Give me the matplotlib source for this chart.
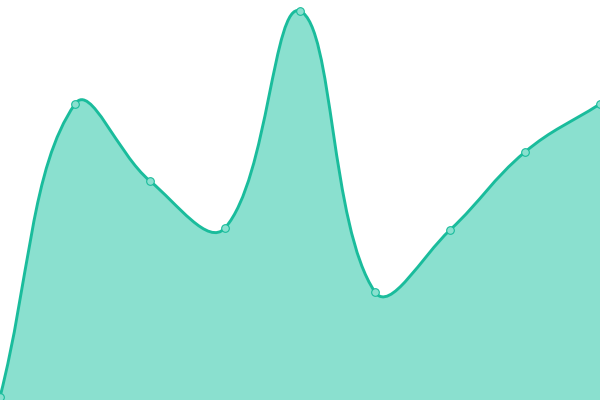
import matplotlib
matplotlib.use("Agg")
import matplotlib.pyplot as plt
import numpy as np
from matplotlib.path import Path
from matplotlib.patches import PathPatch

labels = ["A", "B", "C", "D", "E", "F", "G", "H", "I"]
values = [3, 296, 219, 172, 389, 108, 170, 248, 296]

LINE = "#1abc9c"
FILL = "#8ae0cf"
TENSION = 0.4

fig = plt.figure(figsize=(6, 4), dpi=100)
ax = fig.add_axes([0, 0, 1, 1])
ax.set_xlim(0, len(values) - 1)
ax.set_ylim(0, 400)
ax.axis("off")

xs = np.arange(len(values), dtype=float)
pts = ax.transData.transform(np.column_stack([xs, values]))
W, H = fig.bbox.width, fig.bbox.height

def spline(p0, p1, p2, t):
    d01 = np.hypot(*(p1 - p0))
    d12 = np.hypot(*(p2 - p1))
    tot = d01 + d12
    s01 = d01 / tot if tot else 0
    s12 = d12 / tot if tot else 0
    fa, fb = t * s01, t * s12
    prev = p1 - fa * (p2 - p0)
    nxt = p1 + fb * (p2 - p0)
    return prev, nxt

n = len(pts)
ctrl_prev, ctrl_next = [], []
for i in range(n):
    p0 = pts[i - 1] if i > 0 else pts[i]
    p2 = pts[i + 1] if i < n - 1 else pts[i]
    a, b = spline(p0, pts[i], p2, TENSION)
    a = np.array([np.clip(a[0], 0, W), np.clip(a[1], 0, H)])
    b = np.array([np.clip(b[0], 0, W), np.clip(b[1], 0, H)])
    ctrl_prev.append(a)
    ctrl_next.append(b)

verts = [pts[0]]
codes = [Path.MOVETO]
for i in range(1, n):
    verts += [ctrl_next[i - 1], ctrl_prev[i], pts[i]]
    codes += [Path.CURVE4] * 3

inv = ax.transData.inverted()
dverts = inv.transform(np.array(verts))

fverts = list(dverts) + [[xs[-1], 0], [xs[0], 0], dverts[0]]
fcodes = codes + [Path.LINETO, Path.LINETO, Path.CLOSEPOLY]
ax.add_patch(PathPatch(Path(fverts, fcodes), facecolor=FILL, edgecolor="none", zorder=1))
ax.add_patch(PathPatch(Path(dverts, codes), facecolor="none", edgecolor=LINE,
                       linewidth=2.1, zorder=2, capstyle="round", joinstyle="round"))
ax.plot(xs, values, linestyle="none", marker="o", markersize=5.5,
        markerfacecolor=FILL, markeredgecolor=LINE, markeredgewidth=0.8,
        zorder=3, clip_on=False)

fig.savefig("out.png", dpi=100)
